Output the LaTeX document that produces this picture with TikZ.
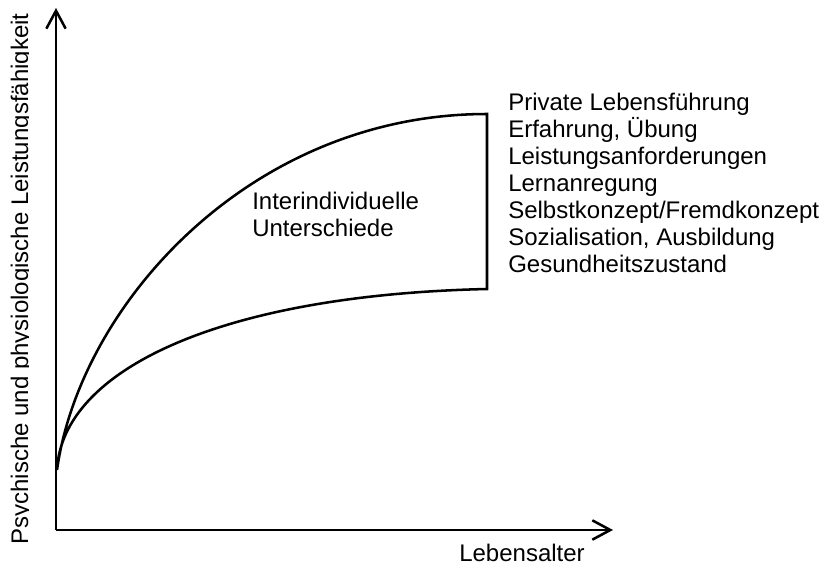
\documentclass[tikz,border=0pt]{standalone}
\usepackage{fontspec}
\setmainfont{Liberation Sans}
\usetikzlibrary{arrows.meta}

\tikzset{every picture/.style={line width=1.9pt}}
\tikzset{
  axis/.style={-{Straight Barb[length=13.5pt,width=14.5pt]}},
  txt/.style={anchor=north west,inner sep=0.75pt,align=left,font=\fontsize{18}{20.25}\selectfont},
}

\begin{document}
\begin{tikzpicture}[x=0.75pt,y=0.75pt,yscale=-1,xscale=1]
    \useasboundingbox (0,0) rectangle (820,564);
    % Axes
    \coordinate (origin) at (56,530);
    \coordinate (ytip) at (56,8);
    \coordinate (xtip) at (613,530);
    \draw [axis] (origin) -- (ytip) ;
    \draw [axis] (origin) -- (xtip) ;
    % Curves
    \coordinate (start) at (57,470);
    \coordinate (hi) at (487,114);
    \coordinate (lo) at (487,289);
    \draw [line join=miter]  (start) .. controls (80,305) and (250,114) .. (hi) -- (lo) .. controls (220,295) and (62,370) .. (start) ;
    % Text Node
    \node (band) [txt] at (250,190) {Interindividuelle\\Unterschiede};
    % Text Node
    \node (factors) [txt] at (506,91) {Private Lebensführung\\Erfahrung, Übung\\Leistungsanforderungen\\Lernanregung\\Selbstkonzept/Fremdkonzept\\Sozialisation, Ausbildung\\Gesundheitszustand};
    % Text Node
    \node (xlabel) [txt,anchor=base] at (522,561) {Lebensalter};
    % Text Node
    \begin{scope}
    \clip (0,0) rectangle (28.6,564);
    \node (ylabel) [txt,anchor=base,rotate=90] at (28,279) {Psychische und physiologische Leistungsfähigkeit};
    \end{scope}

\end{tikzpicture}
\end{document}
